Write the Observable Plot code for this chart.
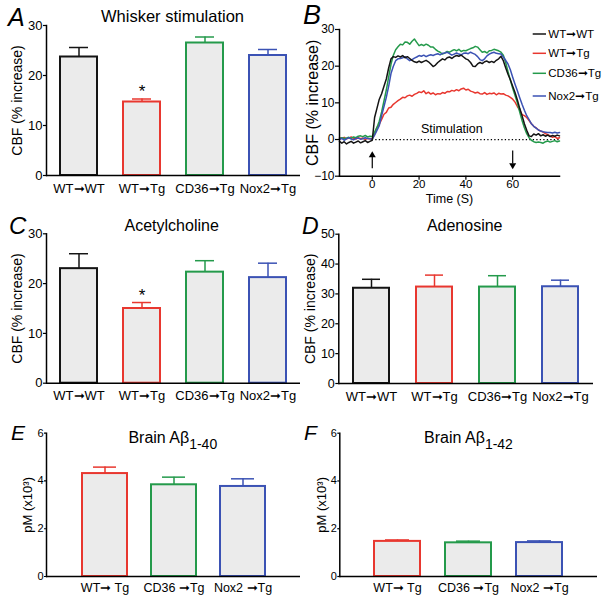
<!DOCTYPE html>
<html><head><meta charset="utf-8">
<script src="https://cdn.jsdelivr.net/npm/d3@7"></script>
<script src="https://cdn.jsdelivr.net/npm/@observablehq/plot@0.6"></script>
<style>
body{margin:0;background:#fff;}
#fig{position:relative;width:612px;height:602px;overflow:hidden;background:#fff}
#fig svg.panel{position:absolute}
</style></head><body><div id="fig"></div><script>
const FONT = "'Liberation Sans', Arial, Helvetica, sans-serif";

// ---------- data ----------
const groups4 = ["WT➞WT", "WT➞Tg", "CD36➞Tg", "Nox2➞Tg"];
const colors4 = ["#141414", "#e8372f", "#249a4b", "#3b52b4"];
const groups3 = ["WT➞ Tg", "CD36 ➞Tg", "Nox2 ➞Tg"];
const colors3 = ["#e8372f", "#249a4b", "#3b52b4"];

const whiskerMean = [23.7, 14.7, 26.5, 24.0];
const whiskerErr  = [25.6, 15.3, 27.7, 25.2];
const whiskerSig  = ["", "*", "", ""];

const achMean = [23.0, 15.0, 22.3, 21.2];
const achErr  = [26.0, 16.2, 24.6, 24.1];
const achSig  = ["", "*", "", ""];

const adoMean = [31.9, 32.3, 32.3, 32.4];
const adoErr  = [34.9, 36.3, 36.1, 34.6];

const ab40Mean = [4.31, 3.84, 3.77];
const ab40Err  = [4.58, 4.16, 4.09];
const ab42Mean = [1.47, 1.41, 1.42];
const ab42Err  = [1.53, 1.48, 1.49];

// time course (panel B), one value per second from -14 s to 80 s
const timeSec = d3.range(-14, 81);
const cbfWTWT = [-0.5,-1,-0.6,-1.2,-0.8,-0.5,-1,-0.7,-0.4,-0.9,-0.6,-0.3,-0.8,-0.5,
  -0.2,6,8.5,11,12.5,14.5,16.5,19.5,22,22.6,
  22.4,22.8,22.5,22.9,22.3,22.6,22.1,21.6,21.2,21,
  21.4,21,21.3,21.6,21.2,20.6,19.9,20.3,21,21.5,
  22,21.7,22.3,22.5,22.1,22.6,22.9,22.7,23,22.5,
  22,21.7,21,20,19.9,20.6,21,20.7,21.2,21.4,
  21,21.3,21,21.6,22,22.7,21.5,19.6,17.8,16.3,
  14.5,12.8,10.8,8.5,6.5,4.3,2.5,1,0.8,1.5,
  1.2,1.6,1,1.3,0.9,1.2,0.8,1.1,0.9,1.2,
  1];
const cbfWTTg = [0.5,0.3,0.6,0.2,0.4,0.7,0.3,0.1,0.5,0.2,0.4,0,0.3,0.2,
  0.2,1.5,3.3,4.2,5.5,6.9,7.4,8.6,8.8,9.6,
  10.1,10.6,11,11.5,11.4,11.9,12.1,11.8,12.3,12.6,
  13,12.8,13.3,12.5,12.9,12.4,12.7,12.2,12.5,12.4,
  12.8,12.6,13.1,13,13.4,13.2,13.6,13.3,13.8,14,
  13.5,13.7,13.2,13,12.7,12.9,12.5,12.4,12.8,12.3,
  12.6,12.5,12.7,12.2,12.6,12.4,12.5,12.1,11.9,11.5,
  11,10.2,9,8,6.8,6.5,6,5.2,4.3,3.6,
  3.2,2.6,2.3,2,1.6,1.3,1,0.6,0.8,0.3,
  0.5];
const cbfCD36Tg = [0.2,0.5,0.3,0.4,0.6,0.3,0.7,0.5,0.9,1,0.8,1.1,0.7,0.9,
  0.8,2,3.3,5,7.5,10.5,13.5,17,20.5,23,
  24.5,25.3,26,25.8,26.6,26.5,26,26.8,27.4,26.5,
  25.6,25.9,25.6,26,25.7,25.2,25.2,24.6,24.1,23.8,
  23.3,23.6,24,23.8,24.2,24.5,24.2,24.6,24,24.3,
  24.2,24.5,24.8,25,25.4,25.2,24.5,23.8,24,23.6,
  24.2,24.3,24.6,24.4,24.2,23.8,23,21,18.5,16.2,
  14,12,10,7.5,5.2,3.2,1.6,0.5,-0.2,-0.6,
  -0.8,-0.7,-0.8,-1,-0.6,-0.4,-0.7,-0.5,-0.3,-0.6,
  -0.4];
const cbfNox2Tg = [0,0.3,-0.2,0.2,0.5,0.1,-0.1,0.3,0.4,0.1,0.2,0.5,0.3,0.2,
  0.1,1.2,2.5,3.8,6.5,9,11.5,14.5,18,20,
  21.5,22,22.1,22.3,22.6,22,21.5,21.8,22.2,22.5,
  22.9,22.7,23,22.6,22.9,23.1,22.9,23.2,23.4,23.1,
  23.5,23.6,23.8,23.4,23,23.3,23.6,23.3,23.1,23.5,
  23.6,23.4,23.8,23.5,23.2,22.6,21.8,21.5,22,22.8,
  23.3,23.6,23.8,23.5,23.4,23.3,22.5,21.6,20.6,19,
  17,15.1,13.3,11.4,9.6,8,6.5,5.4,4.3,3.6,
  3.1,2.6,2.3,2.1,2,1.9,1.9,1.8,2,1.8,
  1.9];
const seriesNames = ["WT➞WT", "WT➞Tg", "CD36➞Tg", "Nox2➞Tg"];
const seriesValues = [cbfWTWT, cbfWTTg, cbfCD36Tg, cbfNox2Tg];
const drawOrder = [1, 2, 3, 0];
const stimArrows = [{t: 0, from: -8, to: -3.6, dir: "up"}, {t: 60, from: -3.1, to: -7.7, dir: "down"}];

// ---------- helpers ----------
const fig = document.getElementById("fig");
const fmt = d3.format("~g");
function place(svg, left, top) {
  svg.classList.add("panel");
  svg.style.left = left + "px";
  svg.style.top = top + "px";
  fig.appendChild(svg);
}

function barPanel(o) {
  const data = o.groups.map((g, i) => ({g, m: o.mean[i], e: o.err[i], c: o.colors[i], s: o.sig ? o.sig[i] : ""}));
  return Plot.plot({
    width: o.w, height: o.h,
    marginLeft: o.ml, marginRight: o.mr, marginTop: o.mt, marginBottom: o.mb,
    style: {fontFamily: FONT, fontSize: "13px", background: "none", overflow: "visible", color: "#000"},
    x: {domain: o.groups, paddingInner: o.pi, paddingOuter: o.po},
    y: {domain: o.yDomain},
    marks: [
      Plot.ruleX(data, {x: "g", y1: "m", y2: "e", stroke: "c", strokeWidth: 1.5}),
      Plot.tickY(data, {x: "g", y: "e", stroke: "c", strokeWidth: 1.5, insetLeft: o.cap, insetRight: o.cap}),
      Plot.barY(data, {x: "g", y: "m", fill: "#ebebeb", stroke: "c", strokeWidth: 2, insetLeft: 1, insetRight: 1}),
      Plot.text(data.filter(d => d.s), {x: "g", y: "e", text: "s", dy: -2, lineAnchor: "bottom", fontSize: 17}),
      Plot.frame({anchor: "left", strokeWidth: 1.5}),
      Plot.ruleY([o.yDomain[0]], {strokeWidth: 1.5}),
      Plot.axisY({ticks: o.yTicks, tickFormat: fmt, tickSize: o.ts, tickPadding: 1, fontSize: o.tickFont, label: null, strokeWidth: 1.2}),
      Plot.axisY({ticks: [], label: o.yLabel, labelAnchor: "center", labelArrow: "none", labelOffset: o.lo, fontSize: o.labelFont}),
      Plot.axisX({tickSize: 0, tickPadding: o.xp, fontSize: o.xFont, label: null})
    ]
  });
}

// ---------- panel A ----------
place(barPanel({groups: groups4, colors: colors4, mean: whiskerMean, err: whiskerErr, sig: whiskerSig,
  w: 306, h: 200, ml: 46, mr: 6, mt: 25, mb: 25, pi: 0.386, po: 0.193, cap: 10,
  yDomain: [0, 30], yTicks: [0, 10, 20, 30], ts: 3, tickFont: 13,
  yLabel: "CBF (% increase)", lo: 34, labelFont: 14, xp: 8, xFont: 13}), 0, 0);

// ---------- panel C ----------
place(barPanel({groups: groups4, colors: colors4, mean: achMean, err: achErr, sig: achSig,
  w: 306, h: 200, ml: 46, mr: 6, mt: 33.3, mb: 17.3, pi: 0.386, po: 0.193, cap: 10,
  yDomain: [0, 30], yTicks: [0, 10, 20, 30], ts: 3, tickFont: 13,
  yLabel: "CBF (% increase)", lo: 34, labelFont: 14, xp: 8, xFont: 13}), 0, 200);

// ---------- panel D ----------
place(barPanel({groups: groups4, colors: colors4, mean: adoMean, err: adoErr,
  w: 306, h: 200, ml: 32.3, mr: 19, mt: 33.7, mb: 17, pi: 0.4, po: 0.2, cap: 10,
  yDomain: [0, 50], yTicks: [0, 10, 20, 30, 40, 50], ts: 3, tickFont: 12.5,
  yLabel: "CBF (% increase)", lo: 33.5, labelFont: 14, xp: 8.5, xFont: 13}), 306, 200);

// ---------- panel E ----------
place(barPanel({groups: groups3, colors: colors3, mean: ab40Mean, err: ab40Err,
  w: 306, h: 202, ml: 46, mr: 6, mt: 32.7, mb: 26, pi: 0.32, po: 0.49, cap: 12,
  yDomain: [0, 6], yTicks: [0, 2, 4, 6], ts: 2, tickFont: 11,
  yLabel: "pM (x10³)", lo: 24, labelFont: 13, xp: 6.5, xFont: 12.5}), 0, 400);

// ---------- panel F ----------
place(barPanel({groups: groups3, colors: colors3, mean: ab42Mean, err: ab42Err,
  w: 306, h: 202, ml: 33.3, mr: 15, mt: 32.7, mb: 26, pi: 0.324, po: 0.475, cap: 12,
  yDomain: [0, 6], yTicks: [0, 2, 4, 6], ts: 2, tickFont: 11,
  yLabel: "pM (x10³)", lo: 23, labelFont: 13, xp: 6.5, xFont: 12.5}), 306, 400);

// ---------- panel B ----------
const tsData = drawOrder.flatMap(k => seriesValues[k].map((v, i) => ({t: timeSec[i], v, name: seriesNames[k], color: colors4[k]})));
const up = stimArrows.filter(d => d.dir === "up"), down = stimArrows.filter(d => d.dir === "down");
place(Plot.plot({
  width: 306, height: 200, marginLeft: 33, marginRight: 53, marginTop: 29, marginBottom: 24.3,
  style: {fontFamily: FONT, fontSize: "12px", background: "none", overflow: "visible", color: "#000"},
  x: {domain: [-14, 80]}, y: {domain: [-10, 30]},
  marks: [
    Plot.ruleY([0], {x1: 0, x2: 80, strokeDasharray: "1.3,2.2", strokeWidth: 1.3}),
    Plot.lineY(tsData, {x: "t", y: "v", z: "name", stroke: "color", strokeWidth: 1.5}),
    Plot.text(["Stimulation"], {x: 34, y: 1.9, text: d => d, lineAnchor: "bottom", fontSize: 12.5}),
    Plot.ruleX(stimArrows, {x: "t", y1: "from", y2: d => d.to + (d.dir === "up" ? -1 : 1), strokeWidth: 1.2}),
    Plot.dot(up, {x: "t", y: "to", symbol: "triangle", r: 2.6, fill: "#000", dy: 2.5}),
    Plot.dot(down, {x: "t", y: "to", symbol: "triangle", r: 2.6, fill: "#000", rotate: 180, dy: -2.5}),
    Plot.frame({anchor: "left", strokeWidth: 1.5}),
    Plot.frame({anchor: "bottom", strokeWidth: 1.5}),
    Plot.axisY({ticks: [-10, 0, 10, 20, 30], tickSize: 4, tickPadding: 1, fontSize: 12, label: null, strokeWidth: 1.2}),
    Plot.axisY({ticks: [], label: "CBF (% increase)", labelAnchor: "center", labelArrow: "none", labelOffset: 33, fontSize: 16}),
    Plot.axisX({ticks: [0, 20, 40, 60], tickSize: 4, tickPadding: 0, fontSize: 11.5, label: null, strokeWidth: 1.2}),
    Plot.axisX({ticks: [], label: "Time (S)", labelAnchor: "center", labelArrow: "none", labelOffset: 26.5, fontSize: 12.5})
  ]
}), 306, 0);

// ---------- overlay text: panel letters, titles, legend ----------
const ov = d3.create("svg").attr("width", 612).attr("height", 602)
  .attr("class", "panel").style("left", "0px").style("top", "0px")
  .attr("font-family", FONT).style("pointer-events", "none");
const letters = [
  {s: "A", x: 8, y: 26, f: 25}, {s: "B", x: 303, y: 23.5, f: 27},
  {s: "C", x: 9, y: 233.5, f: 24}, {s: "D", x: 302, y: 233.5, f: 23},
  {s: "E", x: 11, y: 439.5, f: 21}, {s: "F", x: 304, y: 439.5, f: 21}];
ov.selectAll("text.l").data(letters).join("text").attr("class", "l")
  .attr("x", d => d.x).attr("y", d => d.y).attr("font-size", d => d.f).attr("font-style", "italic").text(d => d.s);
const titles = [
  {s: "Whisker stimulation", x: 172.5, y: 22, f: 16.5},
  {s: "Acetylcholine", x: 171.7, y: 230.5, f: 16},
  {s: "Adenosine", x: 464.7, y: 230.5, f: 16}];
ov.selectAll("text.t").data(titles).join("text").attr("class", "t")
  .attr("x", d => d.x).attr("y", d => d.y).attr("font-size", d => d.f).attr("text-anchor", "middle").text(d => d.s);
const abTitles = [{main: "Brain Aβ", sub: "1-40", x: 172.8}, {main: "Brain Aβ", sub: "1-42", x: 468.5}];
abTitles.forEach(d => {
  const t = ov.append("text").attr("x", d.x).attr("y", 443.3).attr("font-size", 16).attr("text-anchor", "middle");
  t.append("tspan").text(d.main);
  t.append("tspan").attr("dy", 6).attr("font-size", 14).text(d.sub);
});
const legRows = [34, 53.3, 73.3, 96];
seriesNames.forEach((n, i) => {
  ov.append("line").attr("x1", 532.7).attr("x2", 546).attr("y1", legRows[i]).attr("y2", legRows[i])
    .attr("stroke", colors4[i]).attr("stroke-width", 1.5);
  ov.append("text").attr("x", 548.3).attr("y", legRows[i] + 3.8).attr("font-size", 11.5).text(n);
});
fig.appendChild(ov.node());
</script></body></html>
